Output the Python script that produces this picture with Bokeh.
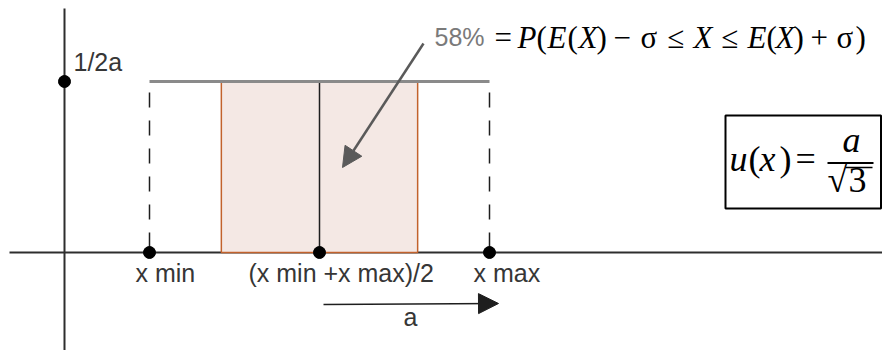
import numpy as np
from bokeh.plotting import figure
from bokeh.models import Range1d, Arrow, NormalHead
from bokeh.core.properties import value
from bokeh.embed import file_html
from bokeh.resources import INLINE

# Uniform distribution on [x_min, x_max]
x_min = 1.0
x_max = 5.0
a = (x_max - x_min) / 2            # half-width
mean = (x_min + x_max) / 2
density = 1 / (2 * a)
sigma = a / np.sqrt(3)
coverage_pct = 58                   # share of the mass inside mean ± sigma

point_x = [x_min, mean, x_max, 0.0]
point_y = [0.0, 0.0, 0.0, density]

# Canvas and placement of the origin (pixels)
W, H = 882, 350
OX, OY = 64, 252
SX, SY = 85.0, 684.0


def X(px):
    return (px - OX) / SX


def Y(py):
    return (OY - py) / SY


def YB(py, size):
    # baseline position for a text of the given font size
    return Y(py - 0.38 * size)


p = figure(width=W, height=H,
           x_range=Range1d(X(0), X(W)), y_range=Range1d(Y(H), Y(0)),
           x_axis_type=None, y_axis_type=None,
           toolbar_location=None, output_backend="svg",
           min_border=0, outline_line_color=None)
p.grid.visible = False
p.background_fill_color = "white"
p.border_fill_color = "white"

# Coordinate axes
p.segment(x0=[X(9), 0.0], y0=[0.0, Y(8)], x1=[X(W), 0.0], y1=[0.0, Y(H)],
          line_color="#2e2e2e", line_width=2)

# Shaded band mean ± sigma
p.quad(left=[mean - sigma], right=[mean + sigma], bottom=[0.0], top=[density],
       fill_color="#f4e8e4", line_color="#c2622c", line_width=1.5)

# Mean line
p.segment(x0=[mean], y0=[0.0], x1=[mean], y1=[density],
          line_color="#1e1e1e", line_width=1.5)

# Dashed edges of the support
p.segment(x0=[x_min, x_max], y0=[density, density], x1=[x_min, x_max], y1=[0.0, 0.0],
          line_color="#1e1e1e", line_width=1.5, line_dash="15 13", line_dash_offset=17)

# Density level
p.segment(x0=[x_min], y0=[density], x1=[x_max], y1=[density],
          line_color="#8a8a8a", line_width=3)

# Marked points
p.scatter(point_x, point_y, size=12, color="black")

# Arrow for the half-width a
p.add_layout(Arrow(x_start=X(323), y_start=Y(304), x_end=X(498), y_end=Y(303),
                   line_color="#1e1e1e", line_width=1.5,
                   end=NormalHead(size=20, fill_color="#1e1e1e", line_color="#1e1e1e")))

# Pointer to the band
p.add_layout(Arrow(x_start=X(423), y_start=Y(43), x_end=X(342), y_end=Y(167),
                   line_color="#5a5a5a", line_width=2.5,
                   end=NormalHead(size=20, fill_color="#5a5a5a", line_color="#5a5a5a")))

sans = value("Liberation Sans")
serif = value("Liberation Serif")

# Axis labels
p.text(x=[X(73), X(135), X(248), X(473), X(403)],
       y=[YB(71, 25), YB(282, 25), YB(282, 25), YB(282, 25), YB(326, 25)],
       text=["1/2a", "x min", "(x min +x max)/2", "x max", "a"],
       text_font=sans, text_font_size="25px", text_color="#363636",
       text_align="left", text_baseline="alphabetic")

p.text(x=[X(434)], y=[YB(46, 25)], text=[f"{coverage_pct}%"],
       text_font=sans, text_font_size="25px", text_color="#7a7a7a",
       text_align="left", text_baseline="alphabetic")

# Probability statement: = P(E(X) − σ ≤ X ≤ E(X) + σ)
FS = 31
f_tok = ["=", "P", "(", "E", "(", "X", ")", "−", "σ", "≤", "X", "≤", "E", "(", "X", ")", "+", "σ", ")"]
f_px = [494, 517, 536, 547, 567, 578, 596, 613, 640, 667, 693, 721, 747, 766, 775, 793, 810, 836, 855]
f_it = [False, True, False, True, False, True, False, False, False, False, True, False, True, False, True, False, False, False, False]
for italic in (False, True):
    xs = [X(px) for px, it in zip(f_px, f_it) if it == italic]
    ts = [t for t, it in zip(f_tok, f_it) if it == italic]
    p.text(x=xs, y=[YB(49, FS)] * len(xs), text=ts,
           text_font=serif, text_font_size=f"{FS}px", text_color="black",
           text_font_style="italic" if italic else "normal",
           text_align="left", text_baseline="alphabetic")

# Standard uncertainty box: u(x) = a / √3
BS = 36
p.quad(left=[X(725)], right=[X(880.5)], top=[Y(115)], bottom=[Y(208)],
       fill_color=None, line_color="black", line_width=2)
u_tok = ["u", "(", "x", ")", "="]
u_px = [729, 748, 759, 779, 795]
u_it = [True, False, True, False, False]
for italic in (False, True):
    xs = [X(px) for px, it in zip(u_px, u_it) if it == italic]
    ts = [t for t, it in zip(u_tok, u_it) if it == italic]
    p.text(x=xs, y=[YB(172, BS)] * len(xs), text=ts,
           text_font=serif, text_font_size=f"{BS}px", text_color="black",
           text_font_style="italic" if italic else "normal",
           text_align="left", text_baseline="alphabetic")
p.text(x=[X(851)], y=[YB(153, BS)], text=["a"],
       text_font=serif, text_font_size=f"{BS}px", text_color="black",
       text_font_style="italic", text_align="center", text_baseline="alphabetic")
p.segment(x0=[X(827)], y0=[Y(162.5)], x1=[X(873)], y1=[Y(162.5)],
          line_color="black", line_width=2)
p.text(x=[X(827), X(848)], y=[YB(193, BS), YB(193, BS)], text=["√", "3"],
       text_font=serif, text_font_size=f"{BS}px", text_color="black",
       text_align="left", text_baseline="alphabetic")
p.segment(x0=[X(845)], y0=[Y(167)], x1=[X(872)], y1=[Y(167)],
          line_color="black", line_width=1.5)

open("out.html", "w").write(file_html(p, INLINE))
